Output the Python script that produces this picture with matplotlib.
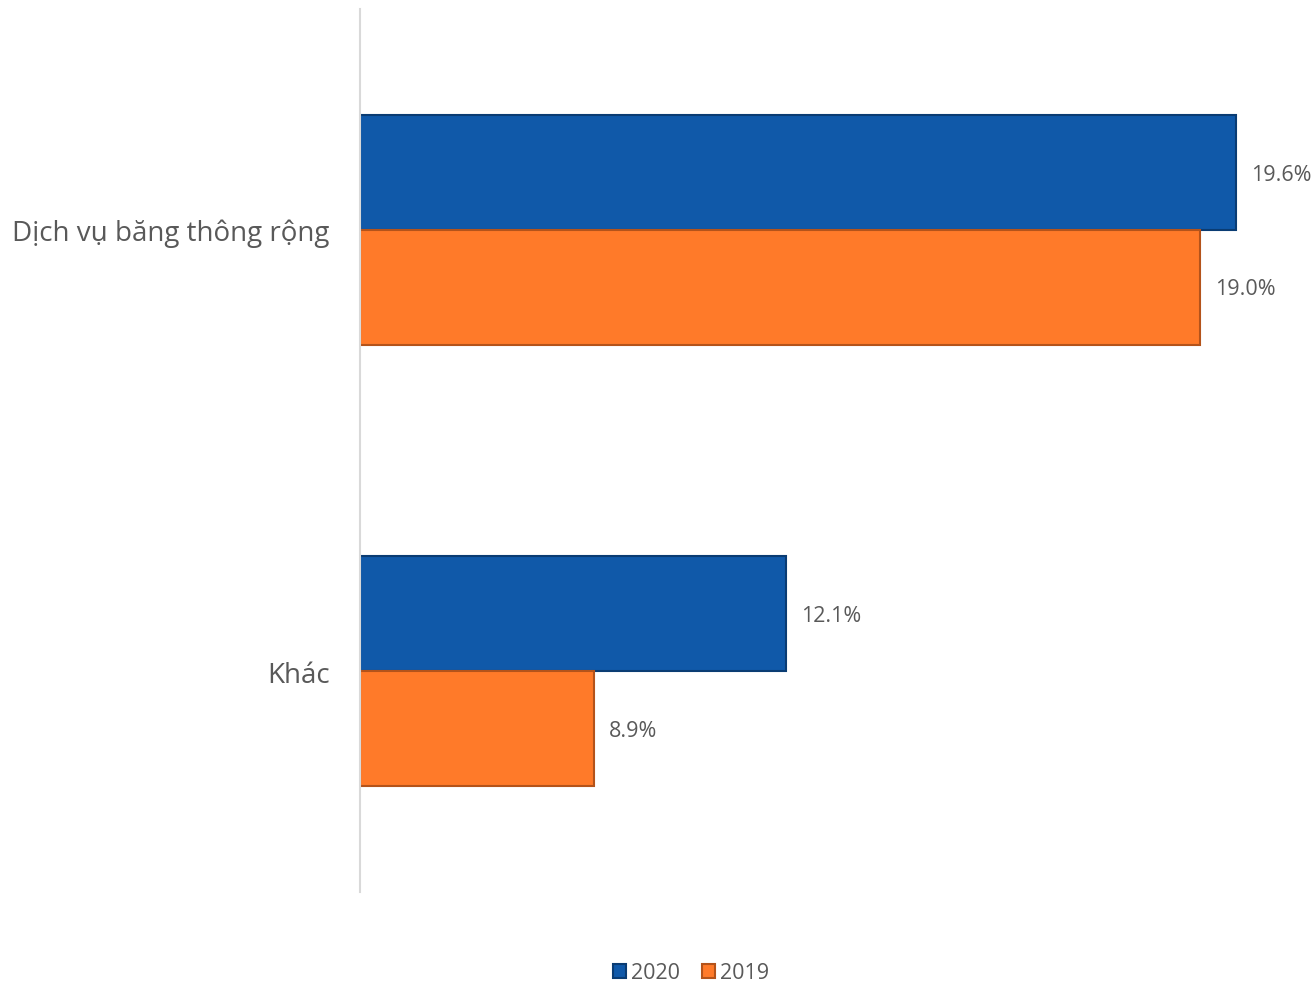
import matplotlib.pyplot as plt
import numpy as np

plt.rcParams['font.family'] = ['Open Sans', 'DejaVu Sans']

# Data
categories = ['Dịch vụ băng thông rộng', 'Khác']
series_names = ['2020', '2019']
values_2020 = [19.6, 12.1]
values_2019 = [19.0, 8.9]

blue = '#1059A9'
orange = '#FF7A29'
text_gray = '#595959'

fig = plt.figure(figsize=(13.14, 9.87), dpi=100)
ax = fig.add_axes([360 / 1314, 94 / 987, 954 / 1314, 883 / 987])

y = np.arange(len(categories))
h = 0.26
x_min = 5

b1 = ax.barh(y - h / 2, np.array(values_2020) - x_min, height=h, left=x_min,
             color=blue, edgecolor='#0A3C73', linewidth=1.5, label=series_names[0])
b2 = ax.barh(y + h / 2, np.array(values_2019) - x_min, height=h, left=x_min,
             color=orange, edgecolor='#B4531A', linewidth=1.5, label=series_names[1])

for bars, vals in [(b1, values_2020), (b2, values_2019)]:
    for bar, v in zip(bars, vals):
        ax.text(v + 0.25, bar.get_y() + bar.get_height() / 2 + 0.004, f'{v:.1f}%',
                va='center', ha='left', fontsize=15.5, color=text_gray)

ax.set_xlim(x_min, x_min + 954 / 60)
ax.set_ylim(1.5, -0.5)
ax.set_yticks(y)
ax.set_yticklabels(categories, fontsize=20, color=text_gray)
ax.tick_params(axis='y', length=0, pad=22)
ax.set_xticks([])

for s in ['top', 'right', 'bottom']:
    ax.spines[s].set_visible(False)
ax.spines['left'].set_color('#D9D9D9')
ax.spines['left'].set_linewidth(1.5)

fig.legend(handles=[b1, b2], labels=series_names, loc='center',
           bbox_to_anchor=(691 / 1314, 1 - 974 / 987), ncol=2, frameon=False,
           fontsize=15.5, labelcolor=text_gray, handlelength=0.6, handleheight=0.6,
           handletextpad=0.25, columnspacing=1.0, borderpad=0.2)

fig.savefig('out.png', dpi=100)
